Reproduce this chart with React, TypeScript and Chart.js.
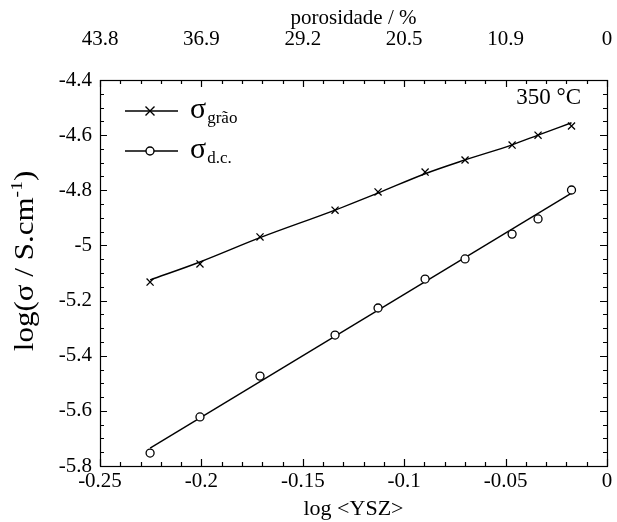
import React, { useEffect, useRef } from 'react';
import { Chart, registerables } from 'chart.js';

Chart.register(...registerables);

// ---- data ----
const logYSZ = [-0.2253, -0.2007, -0.1711, -0.1341, -0.1129, -0.0897, -0.07, -0.0468, -0.034, -0.0175];
const sigmaGrao = [-5.133, -5.067, -4.969, -4.872, -4.806, -4.734, -4.69, -4.636, -4.6, -4.567];
const sigmaDC = [-5.753, -5.622, -5.474, -5.325, -5.227, -5.122, -5.049, -4.959, -4.904, -4.799];

// fitted curves drawn through the points
const fitGrao = [-5.125, -5.06, -4.972, -4.872, -4.81, -4.74, -4.69, -4.635, -4.6, -4.555];
const fitDCX = [-0.2253, -0.0175];
const fitDC = [-5.735, -4.81];

// ---- axes ----
const xTickValues = [-0.25, -0.2, -0.15, -0.1, -0.05, 0];
const xTickLabels = ['-0.25', '-0.2', '-0.15', '-0.1', '-0.05', '0'];
const porosityLabels = ['43.8', '36.9', '29.2', '20.5', '10.9', '0'];
const yTickValues = [-4.4, -4.6, -4.8, -5, -5.2, -5.4, -5.6, -5.8];
const yTickLabels = ['-4.4', '-4.6', '-4.8', '-5', '-5.2', '-5.4', '-5.6', '-5.8'];

const xTitle = 'log <YSZ>';
const topTitle = 'porosidade / %';
const yTitleMain = 'log(σ / S.cm';
const yTitleSup = '-1';
const yTitleEnd = ')';
const legendSubs = ['grão', 'd.c.'];
const tempLabel = '350 °C';

const FONT = '"Liberation Serif", "Times New Roman", serif';

const framePlugin = {
  id: 'frameTicks',
  afterDraw(chart: any) {
    const { ctx, chartArea: a, scales } = chart;
    const xs = scales.x;
    const ys = scales.y;
    ctx.save();
    ctx.strokeStyle = '#000';
    ctx.lineWidth = 1.2;
    ctx.strokeRect(Math.round(a.left) + 0.5, Math.round(a.top) + 0.5, Math.round(a.right - a.left), Math.round(a.bottom - a.top));
    ctx.beginPath();
    for (let i = 0; i <= 25; i++) {
      const v = -0.25 + i * 0.01;
      const px = Math.round(xs.getPixelForValue(v)) + 0.5;
      const len = i % 5 === 0 ? 7 : 4;
      ctx.moveTo(px, a.bottom);
      ctx.lineTo(px, a.bottom - len);
      ctx.moveTo(px, a.top);
      ctx.lineTo(px, a.top + len);
    }
    for (let i = 0; i <= 28; i++) {
      const v = -4.4 - i * 0.05;
      const py = Math.round(ys.getPixelForValue(v)) + 0.5;
      const len = i % 4 === 0 ? 7 : 4;
      ctx.moveTo(a.left, py);
      ctx.lineTo(a.left + len, py);
      ctx.moveTo(a.right, py);
      ctx.lineTo(a.right - len, py);
    }
    ctx.stroke();

    ctx.fillStyle = '#000';
    ctx.textBaseline = 'alphabetic';

    // top (porosity) tick labels, placed on the same scale
    ctx.textAlign = 'center';
    ctx.font = `21px ${FONT}`;
    xTickValues.forEach((v, i) => {
      ctx.fillText(porosityLabels[i], xs.getPixelForValue(v), 45);
    });

    // titles
    const cx = (a.left + a.right) / 2;
    ctx.font = `22px ${FONT}`;
    ctx.fillText(xTitle, cx, 515);
    ctx.font = `21px ${FONT}`;
    ctx.fillText(topTitle, cx, 24);

    // y title with superscript
    ctx.save();
    ctx.translate(33, 261);
    ctx.rotate(-Math.PI / 2);
    ctx.scale(1.15, 1);
    ctx.textAlign = 'left';
    const mainF = `27px ${FONT}`;
    const supF = `17px ${FONT}`;
    ctx.font = mainF;
    const w1 = ctx.measureText(yTitleMain).width;
    const w3 = ctx.measureText(yTitleEnd).width;
    ctx.font = supF;
    const w2 = ctx.measureText(yTitleSup).width;
    const total = w1 + w2 + w3;
    let sx = -total / 2;
    ctx.font = mainF;
    ctx.fillText(yTitleMain, sx, 0);
    sx += w1;
    ctx.font = supF;
    ctx.fillText(yTitleSup, sx, -11);
    sx += w2;
    ctx.font = mainF;
    ctx.fillText(yTitleEnd, sx, 0);
    ctx.restore();

    // legend
    const rows = [111, 151];
    ctx.lineWidth = 1.4;
    rows.forEach((ry, i) => {
      ctx.beginPath();
      ctx.moveTo(125, ry);
      ctx.lineTo(178, ry);
      ctx.stroke();
      if (i === 0) {
        ctx.beginPath();
        ctx.moveTo(150 - 4.5, ry - 4.5);
        ctx.lineTo(150 + 4.5, ry + 4.5);
        ctx.moveTo(150 - 4.5, ry + 4.5);
        ctx.lineTo(150 + 4.5, ry - 4.5);
        ctx.stroke();
      } else {
        ctx.beginPath();
        ctx.fillStyle = '#fff';
        ctx.arc(150, ry, 4, 0, Math.PI * 2);
        ctx.fill();
        ctx.stroke();
        ctx.fillStyle = '#000';
      }
      ctx.textAlign = 'left';
      ctx.font = `30px ${FONT}`;
      ctx.fillText('σ', 190, ry + 7);
      const sw = ctx.measureText('σ').width;
      ctx.font = `17px ${FONT}`;
      ctx.fillText(legendSubs[i], 190 + sw + 1, ry + 12);
    });

    // temperature
    ctx.textAlign = 'right';
    ctx.font = `23px ${FONT}`;
    ctx.fillText(tempLabel, 581, 104);
    ctx.restore();
  },
};

const tickFont = { family: FONT, size: 21 };

export default function App() {
  const ref = useRef<HTMLCanvasElement>(null);
  useEffect(() => {
    if (!ref.current) return;
    const chart = new Chart(ref.current, {
      type: 'scatter',
      data: {
        datasets: [
          {
            label: 'fit grão',
            data: logYSZ.map((x, i) => ({ x, y: fitGrao[i] })),
            showLine: true,
            borderColor: '#000',
            borderWidth: 1.4,
            pointRadius: 0,
            cubicInterpolationMode: 'monotone',
            order: 2,
          },
          {
            label: 'fit dc',
            data: fitDCX.map((x, i) => ({ x, y: fitDC[i] })),
            showLine: true,
            borderColor: '#000',
            borderWidth: 1.4,
            pointRadius: 0,
            order: 2,
          },
          {
            label: 'σ grão',
            data: logYSZ.map((x, i) => ({ x, y: sigmaGrao[i] })),
            pointStyle: 'crossRot',
            pointRadius: 5,
            borderColor: '#000',
            borderWidth: 1.3,
            backgroundColor: '#000',
            order: 1,
          },
          {
            label: 'σ d.c.',
            data: logYSZ.map((x, i) => ({ x, y: sigmaDC[i] })),
            pointStyle: 'circle',
            pointRadius: 4,
            borderColor: '#000',
            borderWidth: 1.3,
            backgroundColor: '#fff',
            order: 1,
          },
        ],
      },
      options: {
        animation: false,
        responsive: false,
        layout: { padding: { right: 10, left: 0, top: 80, bottom: 0 } },
        plugins: { legend: { display: false }, tooltip: { enabled: false } },
        scales: {
          x: {
            type: 'linear',
            position: 'bottom',
            min: -0.25,
            max: 0,
            grid: { display: false, drawTicks: false },
            border: { display: false },
            afterBuildTicks: (s: any) => {
              s.ticks = xTickValues.map((v) => ({ value: v }));
            },
            ticks: {
              autoSkip: false,
              maxRotation: 0,
              padding: 3,
              color: '#000',
              font: tickFont,
              callback: (_v: any, i: number) => xTickLabels[i],
            },
            afterFit: (s: any) => {
              s.height = 56;
            },
          },
          y: {
            type: 'linear',
            position: 'left',
            min: -5.8,
            max: -4.4,
            grid: { display: false, drawTicks: false },
            border: { display: false },
            afterBuildTicks: (s: any) => {
              s.ticks = yTickValues.map((v) => ({ value: v }));
            },
            ticks: {
              autoSkip: false,
              padding: 8,
              color: '#000',
              font: tickFont,
              callback: (_v: any, i: number) => yTickLabels[i],
            },
            afterFit: (s: any) => {
              s.width = 100;
            },
          },
        },
      },
      plugins: [framePlugin],
    });
    return () => chart.destroy();
  }, []);
  return (
    <div style={{ position: 'fixed', left: 0, top: 0, width: 617, height: 522, background: '#fff' }}>
      <canvas ref={ref} width={617} height={522} style={{ display: 'block' }} />
    </div>
  );
}
